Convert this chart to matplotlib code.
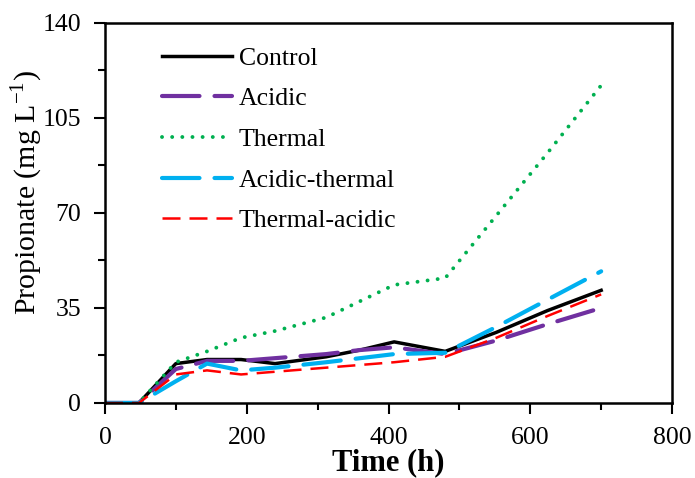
import matplotlib

matplotlib.use("Agg")

import matplotlib.pyplot as plt
from matplotlib.ticker import MultipleLocator

plt.rcParams["font.family"] = ["Liberation Serif", "DejaVu Serif"]

# time points (h) and propionate (mg L-1)
time = [0, 48, 100, 144, 192, 240, 312, 360, 408, 480, 552, 624, 700]
control = [0, 0, 14.5, 16, 16, 14.5, 17, 19.5, 22.5, 19, 26, 34, 41.5]
acidic = [0, 0, 12.5, 15.5, 15.5, 16.5, 18, 19.5, 20.5, 18, 23, 29, 35]
thermal = [0, 0, 15, 19, 24, 26.5, 31.5, 37.5, 43.5, 46, 69, 92, 117]
acidic_thermal = [0, 0, 8, 14.5, 12, 13, 15, 16.5, 18, 18.5, 28, 38, 48.5]
thermal_acidic = [0, 0, 10.5, 12, 10.5, 11.5, 13, 14, 15, 17, 24, 32, 40]

labels = ["Control", "Acidic", "Thermal", "Acidic-thermal", "Thermal-acidic"]
series = [control, acidic, thermal, acidic_thermal, thermal_acidic]

styles = [
    dict(color="black", lw=2.5, ls="-"),
    dict(color="#7030A0", lw=3.0, ls=(0, (9.0, 3.6)), dash_capstyle="round"),
    dict(color="#00B050", lw=2.8, ls=(0, (0.01, 2.6)), dash_capstyle="round"),
    dict(color="#00B0F0", lw=3.0, ls=(0, (9.0, 3.6)), dash_capstyle="round"),
    dict(color="#FF0000", lw=1.8, ls=(0, (7.2, 3.6))),
]

fig = plt.figure(figsize=(6.95, 4.78), dpi=100)
ax = fig.add_axes([0.151, 0.157, 0.816, 0.795])

for label, values, style in zip(labels, series, styles):
    ax.plot(time, values, label=label, **style)

ax.set_xlim(0, 800)
ax.set_ylim(0, 140)
ax.xaxis.set_major_locator(MultipleLocator(200))
ax.xaxis.set_minor_locator(MultipleLocator(100))
ax.yaxis.set_major_locator(MultipleLocator(35))
ax.yaxis.set_minor_locator(MultipleLocator(17.5))
ax.tick_params(which="major", direction="out", length=8, width=1.5, labelsize=18.5)
ax.tick_params(axis="x", which="major", pad=9)
ax.tick_params(axis="y", which="major", pad=9)
ax.tick_params(which="minor", direction="out", length=5, width=1.5)
for spine in ax.spines.values():
    spine.set_linewidth(1.8)

ax.set_xlabel("Time (h)", weight="bold", fontsize=22, labelpad=0)
ax.set_ylabel("Propionate (mg L$^{\\mathregular{-1}}$)", fontsize=21.5)
ax.yaxis.set_label_coords(-0.106, 0.553)

ax.legend(
    loc="upper left",
    bbox_to_anchor=(0.082, 0.965),
    frameon=False,
    fontsize=18.5,
    handlelength=2.72,
    handletextpad=0.27,
    labelspacing=0.69,
    borderaxespad=0,
)

fig.savefig("out.png", dpi=100, facecolor="white")
